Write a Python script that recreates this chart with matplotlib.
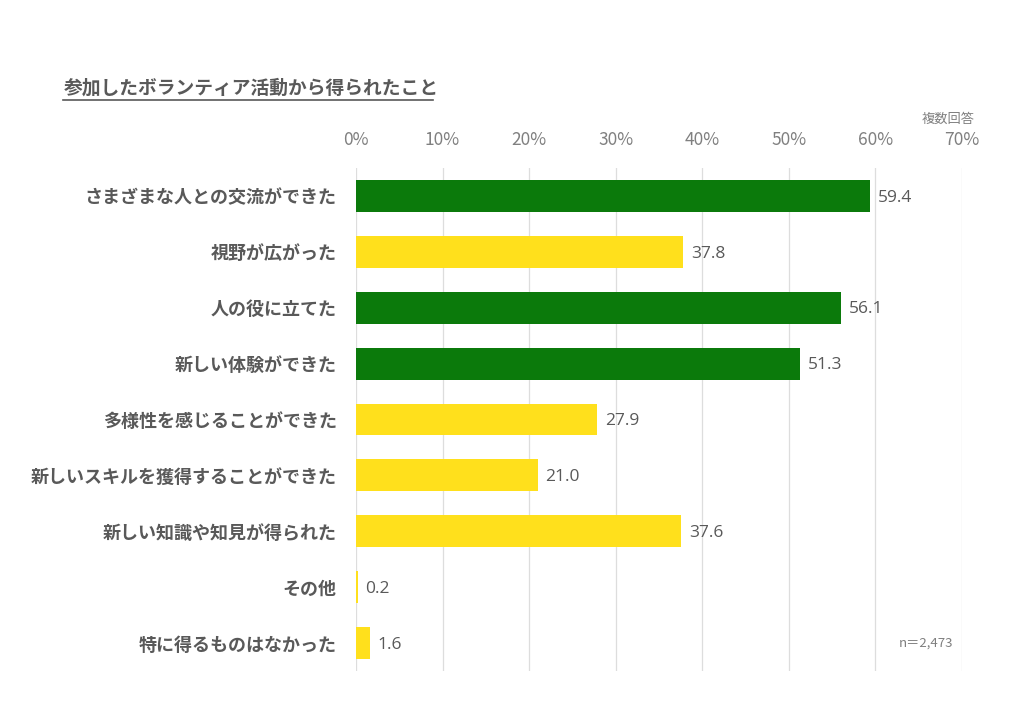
import matplotlib.pyplot as plt
from matplotlib.ticker import PercentFormatter

plt.rcParams['font.family'] = ['Noto Sans CJK JP', 'DejaVu Sans']

# datos (de arriba hacia abajo)
categorias = [
    "さまざまな人との交流ができた",
    "視野が広がった",
    "人の役に立てた",
    "新しい体験ができた",
    "多様性を感じることができた",
    "新しいスキルを獲得することができた",
    "新しい知識や知見が得られた",
    "その他",
    "特に得るものはなかった",
]
valores = [59.4, 37.8, 56.1, 51.3, 27.9, 21.0, 37.6, 0.2, 1.6]
destacados = [True, False, True, True, False, False, False, False, False]

titulo = "参加したボランティア活動から得られたこと"
nota_arriba = "複数回答"
nota_n = "n＝2,473"

verde = "#0B7A0B"
amarillo = "#FFE01C"
gris = "#595959"

fig = plt.figure(figsize=(10.24, 7.09), dpi=100)
ax = fig.add_axes([0.3477, 0.0536, 0.5918, 0.7094])

ys = list(range(len(categorias)))
colores = [verde if d else amarillo for d in destacados]
ax.barh(ys, valores, height=0.57, color=colores, zorder=3)
ax.set_ylim(len(categorias) - 0.5, -0.5)
ax.set_xlim(0, 70.05)
ax.set_xticks(range(0, 71, 10))
ax.xaxis.set_major_formatter(PercentFormatter(decimals=0))
ax.xaxis.tick_top()
ax.tick_params(axis='x', length=0, pad=14, labelsize=12.5, labelcolor="#808080")
ax.tick_params(axis='y', length=0, pad=14)
ax.set_yticks(ys)
ax.set_yticklabels(categorias, fontsize=13, fontweight='bold', color=gris)
ax.grid(axis='x', color="#DDDDDD", linewidth=0.9, zorder=0)
for s in ax.spines.values():
    s.set_visible(False)

# etiquetas de valor
for y, v in zip(ys, valores):
    ax.text(v + 0.9, y + 0.03, f"{v:.1f}", va='center', ha='left', fontsize=12.5,
            color=gris, family=['Open Sans', 'DejaVu Sans'])

fig.text(0.062, 0.876, titulo, fontsize=13.5, fontweight='bold', color=gris,
         va='center', ha='left')
fig.add_artist(plt.Line2D([0.062, 0.423], [0.859, 0.859], color=gris, linewidth=1.2))
fig.text(0.952, 0.832, nota_arriba, fontsize=9.5, color="#7F7F7F", ha='right', va='center')
fig.text(0.931, 0.093, nota_n, fontsize=9.5, color="#7F7F7F", ha='right', va='center')

fig.savefig("out.png", dpi=100)
